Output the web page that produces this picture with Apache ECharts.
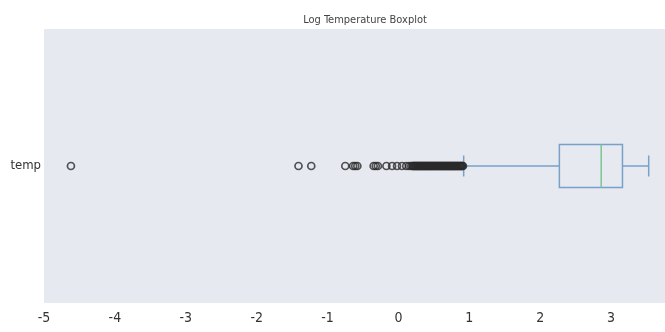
<!DOCTYPE html>
<html>
<head>
<meta charset="utf-8">
<script src="https://cdn.jsdelivr.net/npm/echarts@6/dist/echarts.min.js"></script>
<style>html,body{margin:0;padding:0;background:#fff}#c{width:665px;height:332px}</style>
</head>
<body>
<div id="c"></div>
<script>
const categories = ['temp'];
// [whisker low, Q1, median, Q3, whisker high]
const boxStats = [0.92, 2.27, 2.86, 3.16, 3.53];
const outliers = [
  -4.62, -1.41, -1.23, -0.75, -0.64, -0.61, -0.58, -0.35, -0.32, -0.29,
  -0.17, -0.09, -0.02, 0.05, 0.11, 0.15, 0.18,
  0.20, 0.21, 0.22, 0.23, 0.24, 0.25, 0.26, 0.27, 0.28, 0.29, 0.30, 0.31,
  0.32, 0.33, 0.34, 0.35, 0.36, 0.37, 0.38, 0.39, 0.40, 0.41, 0.42, 0.43,
  0.44, 0.45, 0.46, 0.47, 0.48, 0.49, 0.50, 0.51, 0.52, 0.53, 0.54, 0.55,
  0.56, 0.57, 0.58, 0.59, 0.60, 0.61, 0.62, 0.63, 0.64, 0.65, 0.66, 0.67,
  0.68, 0.69, 0.70, 0.71, 0.72, 0.73, 0.74, 0.75, 0.76, 0.77, 0.78, 0.79,
  0.80, 0.81, 0.82, 0.83, 0.84, 0.85, 0.86, 0.87, 0.88, 0.89, 0.90, 0.91
];
const xTicks = [-5, -4, -3, -2, -1, 0, 1, 2, 3];

const chart = echarts.init(document.getElementById('c'));
const FONT = "'DejaVu Sans Condensed', 'Liberation Sans Narrow', 'Liberation Sans', sans-serif";
const boxColor = '#76a1c8';
const medColor = '#7cc494';

chart.setOption({
  animation: false,
  title: {
    text: 'Log Temperature Boxplot',
    left: 360, top: 10, textAlign: 'center',
    textStyle: {fontFamily: FONT, fontSize: 11, fontWeight: 'normal', color: '#444'}
  },
  grid: {left: 44, right: 0, top: 29, bottom: 29, show: true, backgroundColor: '#e7e9f1', borderWidth: 0},
  xAxis: {
    type: 'value', min: -5, max: 3.76, interval: 1,
    axisLine: {show: false}, axisTick: {show: false}, splitLine: {show: false},
    axisLabel: {
      fontFamily: FONT, fontSize: 14, color: '#333', margin: 8, showMaxLabel: false,
      formatter: v => xTicks.indexOf(v) >= 0 ? String(v) : ''
    }
  },
  yAxis: {
    type: 'category', data: categories,
    axisLine: {show: false}, axisTick: {show: false}, splitLine: {show: false},
    axisLabel: {fontFamily: FONT, fontSize: 13, color: '#333', margin: 3}
  },
  series: [
    {
      type: 'custom',
      data: [[0].concat(boxStats)],
      encode: {x: [1, 2, 3, 4, 5], y: 0},
      renderItem: function (params, api) {
        const c = api.value(0);
        const p = [1, 2, 3, 4, 5].map(i => api.coord([api.value(i), c]));
        const cy = p[0][1];
        const bh = 43, ch = 21;
        const st = {stroke: boxColor, lineWidth: 1.5, fill: null};
        return {
          type: 'group',
          children: [
            {type: 'rect', shape: {x: p[1][0], y: cy - bh / 2, width: p[3][0] - p[1][0], height: bh}, style: st},
            {type: 'line', shape: {x1: p[0][0], y1: cy, x2: p[1][0], y2: cy}, style: st},
            {type: 'line', shape: {x1: p[3][0], y1: cy, x2: p[4][0], y2: cy}, style: st},
            {type: 'line', shape: {x1: p[0][0], y1: cy - ch / 2, x2: p[0][0], y2: cy + ch / 2}, style: st},
            {type: 'line', shape: {x1: p[4][0], y1: cy - ch / 2, x2: p[4][0], y2: cy + ch / 2}, style: st},
            {type: 'line', shape: {x1: p[2][0], y1: cy - bh / 2, x2: p[2][0], y2: cy + bh / 2}, style: {stroke: medColor, lineWidth: 1.5}}
          ]
        };
      },
      z: 2
    },
    {
      type: 'scatter',
      data: outliers.map(v => [v, 0]),
      symbol: 'circle', symbolSize: 7,
      itemStyle: {color: 'rgba(0,0,0,0)', borderColor: '#2a2a2a', borderWidth: 1.7},
      z: 3
    }
  ]
});
</script>
</body>
</html>
